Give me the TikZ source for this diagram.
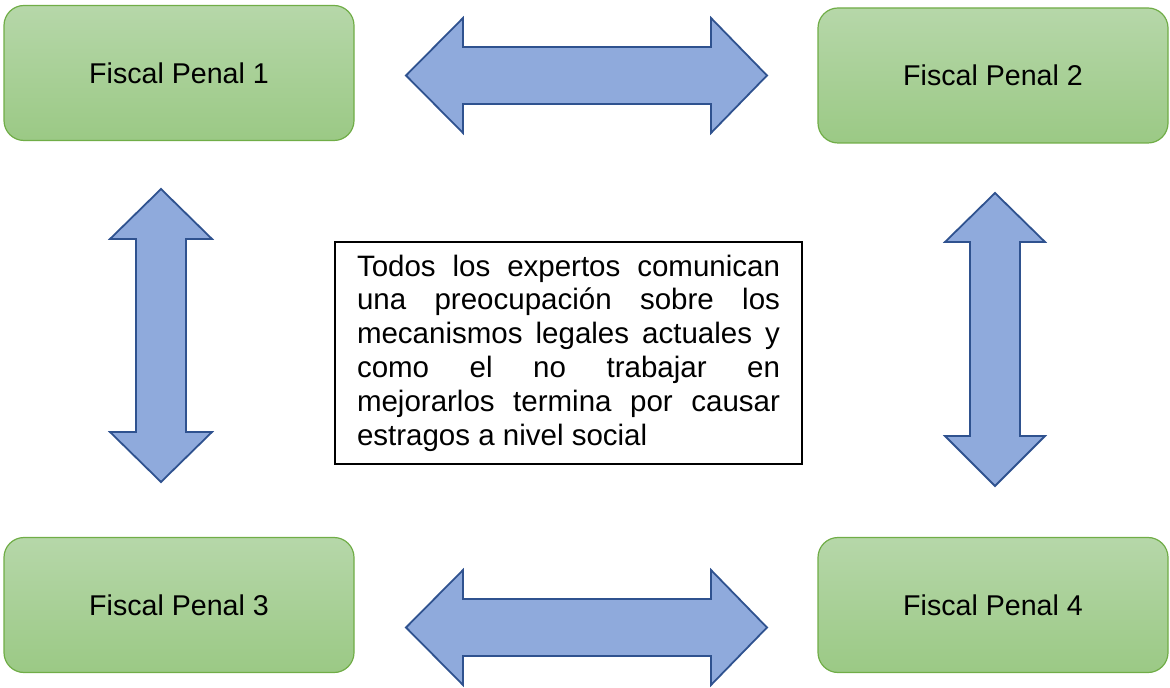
\documentclass[tikz,border=0pt]{standalone}
\usepackage{fontspec}
\setmainfont{Liberation Sans}
\definecolor{penaltop}{HTML}{B6D7A9}
\definecolor{penalbot}{HTML}{9BC985}
\definecolor{penalline}{HTML}{70AD47}
\definecolor{arrowfill}{HTML}{8FAADC}
\definecolor{arrowline}{HTML}{2F528F}

\begin{document}
\begin{tikzpicture}[x=0.5pt, y=-0.5pt,
    fiscal/.style={rectangle, rounded corners=10pt, draw=penalline, line width=0.6pt,
        top color=penaltop, bottom color=penalbot, minimum width=175pt, minimum height=67.5pt,
        font=\fontsize{14.3}{17}\selectfont},
    blockarrow/.style={draw=arrowline, fill=arrowfill, line width=0.9pt, line join=miter}]
    \useasboundingbox (0,0) rectangle (1170,688);

    % the four fiscal boxes
    \node[fiscal] (fp1) at (179, 73) {Fiscal Penal 1};
    \node[fiscal] (fp2) at (993, 75.5) {Fiscal Penal 2};
    \node[fiscal] (fp3) at (179, 605) {Fiscal Penal 3};
    \node[fiscal] (fp4) at (993, 605) {Fiscal Penal 4};

    % central note
    \node[rectangle, draw=black, line width=0.75pt, minimum width=233.5pt, minimum height=111pt,
        text width=211.5pt, align=justify, inner xsep=11pt,
        font=\fontsize{14.75}{16.9}\selectfont] (note) at (568.5, 353)
        {\hyphenpenalty=10000 \tolerance=10000
        Todos los expertos comunican\linebreak
        una preocupación sobre los\linebreak
        mecanismos legales actuales y\linebreak
        como el no trabajar en\linebreak
        mejorarlos termina por causar\linebreak
        estragos a nivel social};

    % horizontal double arrows
    \draw[blockarrow] (406,75.5) -- (463,18) -- (463,47) -- (711,47) -- (711,18) -- (767,75.5)
        -- (711,133) -- (711,104) -- (463,104) -- (463,133) -- cycle;
    \draw[blockarrow] (406,627.5) -- (463,570) -- (463,599) -- (711,599) -- (711,570) -- (767,627.5)
        -- (711,685) -- (711,656) -- (463,656) -- (463,685) -- cycle;

    % vertical double arrows
    \draw[blockarrow] (161,189) -- (212,239) -- (186,239) -- (186,432) -- (212,432) -- (161,482)
        -- (110,432) -- (136,432) -- (136,239) -- (110,239) -- cycle;
    \draw[blockarrow] (995,193) -- (1045,242) -- (1020,242) -- (1020,436) -- (1045,436) -- (995,486)
        -- (945,436) -- (970,436) -- (970,242) -- (945,242) -- cycle;
\end{tikzpicture}
\end{document}
